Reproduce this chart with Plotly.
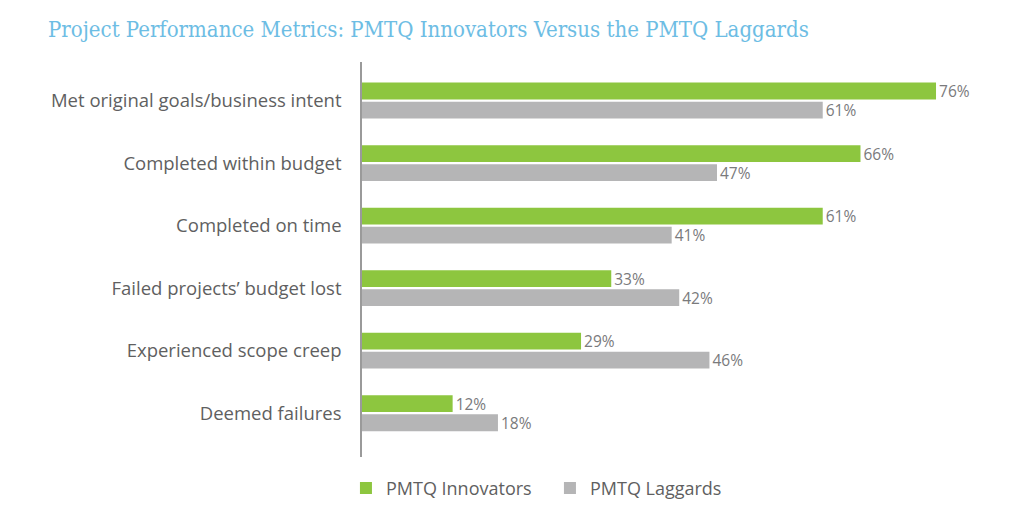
import plotly.graph_objects as go

categories = [
    "Met original goals/business intent",
    "Completed within budget",
    "Completed on time",
    "Failed projects\u2019 budget lost",
    "Experienced scope creep",
    "Deemed failures",
]
innovators = [76, 66, 61, 33, 29, 12]
laggards = [61, 47, 41, 42, 46, 18]
series_names = ["PMTQ Innovators", "PMTQ Laggards"]
title_text = "Project Performance Metrics: PMTQ Innovators Versus the PMTQ Laggards"

GREEN = "#8DC63F"
GRAY = "#B5B5B6"
LABEL = "#5F5F61"
VALUE = "#7A7A7C"

fig = go.Figure()
for name, vals, col in [(series_names[0], innovators, GREEN), (series_names[1], laggards, GRAY)]:
    fig.add_trace(go.Bar(
        y=categories, x=vals, name=name, orientation="h",
        marker=dict(color=col, line=dict(width=0)),
        text=[f"{v}%" for v in vals], textposition="outside", constraintext="none",
        textfont=dict(family="Open Sans, sans-serif", size=15.5, color=VALUE),
        cliponaxis=False,
    ))

fig.update_layout(
    width=1016, height=518,
    paper_bgcolor="white", plot_bgcolor="white",
    margin=dict(l=354, r=20, t=54, b=69),
    barmode="group", bargap=0.39, bargroupgap=0.12,
    title=dict(text=title_text, x=40 / 1016, xanchor="left", y=1 - 21 / 518, yanchor="middle",
               font=dict(family="DejaVu Serif Condensed, DejaVu Serif, serif", size=22, color="#6DBDE4")),
    showlegend=True,
    legend=dict(orientation="h", x=-0.025, xanchor="left", y=-0.079, yanchor="middle",
                font=dict(family="Open Sans, sans-serif", size=18, color=LABEL),
                itemwidth=30, entrywidth=159, traceorder="normal"),
    xaxis=dict(range=[0, 85], showgrid=False, zeroline=False, showticklabels=False, showline=False),
    yaxis=dict(categoryorder="array", categoryarray=categories, range=[5.70, -0.616],
               showgrid=False, zeroline=False, showline=True, linecolor="#9A9A9A", linewidth=1.5,
               ticks="", ticklabelstandoff=15,
               tickfont=dict(family="Open Sans, sans-serif", size=18.5, color=LABEL)),
)

fig.write_html("out.html")
